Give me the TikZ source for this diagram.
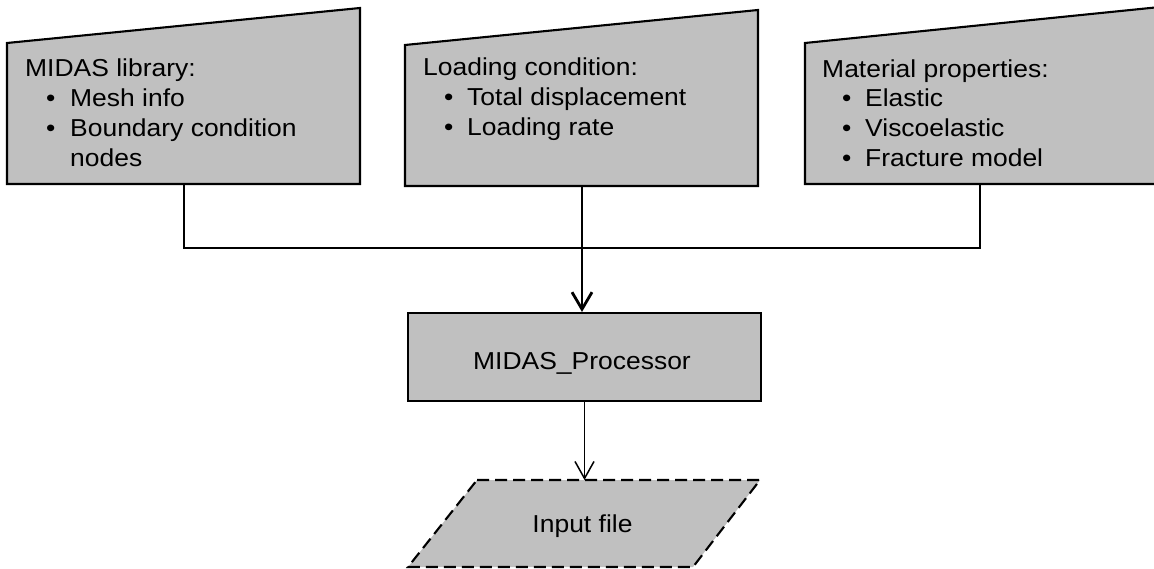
\documentclass[tikz,border=0pt]{standalone}
\usepackage{fontspec}
\setmainfont{Liberation Sans}[FakeStretch=1.08]
\usetikzlibrary{arrows.meta}
\definecolor{boxgray}{RGB}{192,192,192}
\tikzset{
  boxshape/.style={fill=boxgray,draw=black,line width=2.1pt,line join=miter},
  dashshape/.style={fill=boxgray,draw=black,line width=2.1pt,dash pattern=on 12pt off 6pt},
  txt/.style={anchor=base west,inner sep=0pt,font=\fontsize{24.5}{30}\selectfont},
  ctxt/.style={anchor=base,inner sep=0pt,font=\fontsize{24.5}{30}\selectfont},
  conn/.style={draw=black,line width=1.5pt},
  thickarrow/.style={draw=black,line width=2.8pt,-{Straight Barb[length=17pt,width=20pt,line width=2.8pt]}},
  thinarrow/.style={draw=black,line width=1.5pt,-{Straight Barb[length=17pt,width=19pt,line width=1.5pt]}},
  procbox/.style={rectangle,fill=boxgray,draw=black,line width=2.1pt,minimum width=353pt,minimum height=88pt,inner sep=0pt}
}
\begin{document}
\begin{tikzpicture}[x=1pt,y=-1pt]
\clip (0,0) rectangle (1154,569);
\fill[white] (0,0) rectangle (1154,569);
% input boxes (manual input shape)
\path[boxshape] (7,43) -- (360,8) -- (360,184) -- (7,184) -- cycle;
\path[boxshape] (405,45) -- (758,10) -- (758,186) -- (405,186) -- cycle;
\path[boxshape] (805,43) -- (1160,7) -- (1160,184) -- (805,184) -- cycle;
\coordinate (b1) at (184,184);
\coordinate (b2) at (582,186);
\coordinate (b3) at (980,184);
\coordinate (j1) at (184,248);
\coordinate (j2) at (582,248);
\coordinate (j3) at (980,248);
% texts box 1
\node[txt] (t1) at (25,77) {MIDAS library:};
\node[txt] (t1a) at (46,107) {•};
\node[txt] (t1b) at (70,107) {Mesh info};
\node[txt] (t1c) at (46,137) {•};
\node[txt] (t1d) at (70,137) {Boundary condition};
\node[txt] (t1e) at (70,167) {nodes};
% texts box 2
\node[txt] (t2) at (423,75.5) {Loading condition:};
\node[txt] (t2a) at (444,105.5) {•};
\node[txt] (t2b) at (467,105.5) {Total displacement};
\node[txt] (t2c) at (444,135.5) {•};
\node[txt] (t2d) at (467,135.5) {Loading rate};
% texts box 3
\node[txt] (t3) at (822,77.5) {Material properties:};
\node[txt] (t3a) at (842,107) {•};
\node[txt] (t3b) at (865,107) {Elastic};
\node[txt] (t3c) at (842,137) {•};
\node[txt] (t3d) at (865,137) {Viscoelastic};
\node[txt] (t3e) at (842,167) {•};
\node[txt] (t3f) at (865,167) {Fracture model};
% processor
\node[procbox] (proc) at (584.5,357) {};
\node[ctxt] (proct) at (582,369) {MIDAS\_Processor};
% input file parallelogram
\path[dashshape] (477,480) -- (760,480) -- (693,567) -- (408,567) -- cycle;
\coordinate (inptop) at (584.5,480);
\node[ctxt] (inp) at (582.5,532.5) {Input file};
% connectors
\draw[conn] (b1) -- (j1) -- (j3) -- (b3);
\draw[conn] (b2) -- (j2);
\draw[thickarrow] (j2) -- (proc.north -| j2);
\draw[thinarrow] (proc.south) -- (inptop);
\end{tikzpicture}
\end{document}
